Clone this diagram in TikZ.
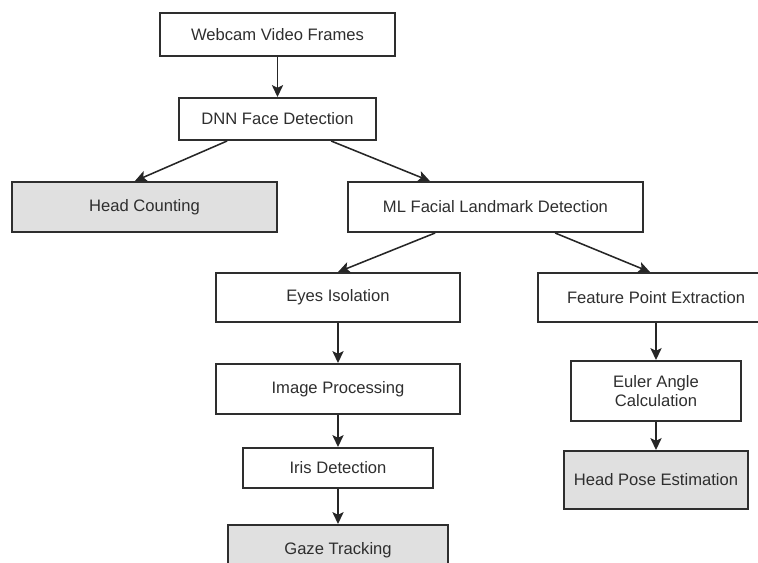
\documentclass[tikz,border=0pt]{standalone}
\usepackage{fontspec}
\setmainfont{Liberation Sans}
\usetikzlibrary{arrows.meta}
\definecolor{boxline}{HTML}{2E2E2E}
\definecolor{boxfill}{HTML}{E0E0E0}
\begin{document}
\begin{tikzpicture}[x=0.025cm, y=-0.025cm,
  blk/.style={draw=boxline, line width=1.4pt, text=boxline, font=\fontsize{11.8}{13.5}\selectfont, inner sep=0pt, align=center},
  grayblk/.style={blk, fill=boxfill},
  arr/.style={draw=black!85, line width=1.1pt, -{Stealth[length=8.5pt, width=8pt, inset=2pt]}}]
  \useasboundingbox (0,0) rectangle (758,562);
  \clip (0,0) rectangle (758,562);
  % top
  \node[blk, minimum width=5.85cm, minimum height=1.075cm] (web) at (277.5,34.5) {Webcam Video Frames};
  \node[blk, minimum width=4.925cm, minimum height=1.05cm] (dnn) at (277.5,119) {DNN Face Detection};
  \node[grayblk, minimum width=6.625cm, minimum height=1.25cm] (head) at (144.5,207) {Head Counting};
  \node[blk, minimum width=7.375cm, minimum height=1.25cm] (ml) at (495.5,207) {ML Facial Landmark Detection};
  % left column
  \node[blk, minimum width=6.1cm, minimum height=1.225cm] (eyes) at (338,297.5) {Eyes Isolation};
  \node[blk, minimum width=6.1cm, minimum height=1.25cm] (img) at (338,389) {Image Processing};
  \node[blk, minimum width=4.75cm, minimum height=1.0cm] (iris) at (338,468) {Iris Detection};
  \node[grayblk, minimum width=5.5cm, minimum height=1.25cm] (gaze) at (338,550) {Gaze Tracking};
  % right column
  \node[blk, minimum width=5.9cm, minimum height=1.225cm] (feat) at (656,297.5) {Feature Point Extraction};
  \node[blk, minimum width=4.25cm, minimum height=1.5cm] (euler) at (656,391) {Euler Angle\\Calculation};
  \node[grayblk, minimum width=4.6cm, minimum height=1.45cm] (pose) at (656,480) {Head Pose Estimation};
  % arrows
  \draw[arr] (web) -- (dnn);
  \draw[arr] ([xshift=-1.26cm]dnn.south) -- ([xshift=-0.24cm]head.north);
  \draw[arr] ([xshift=1.34cm]dnn.south) -- ([xshift=-1.64cm]ml.north);
  \draw[arr] ([xshift=-1.51cm]ml.south) -- (eyes.north);
  \draw[arr] ([xshift=1.49cm]ml.south) -- ([xshift=-0.15cm]feat.north);
  \draw[arr] (eyes) -- (img);
  \draw[arr] (img) -- (iris);
  \draw[arr] (iris) -- (gaze);
  \draw[arr] (feat) -- (euler);
  \draw[arr] (euler) -- (pose);
\end{tikzpicture}
\end{document}
